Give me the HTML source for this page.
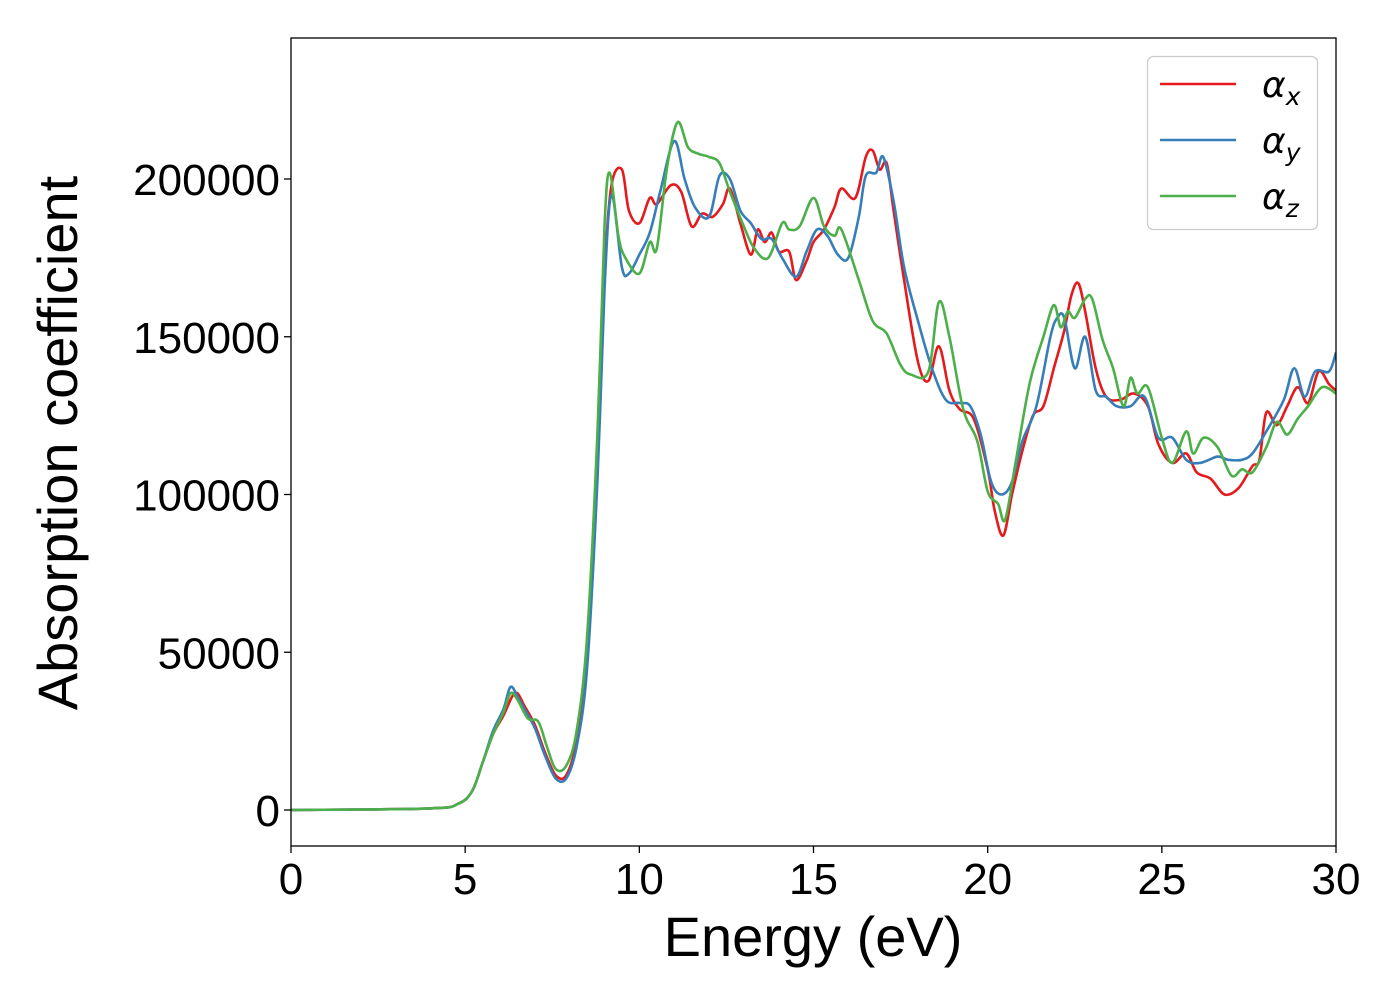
<!DOCTYPE html>
<html><head><meta charset="utf-8"><style>
body{margin:0;background:#fff}
svg{display:block;font-family:"Liberation Sans","DejaVu Sans",sans-serif}
</style></head><body>
<svg id="chart" width="1400" height="1000" viewBox="0 0 1400 1000">
<rect x="0" y="0" width="1400" height="1000" fill="#fff"/>
<g id="series"></g>
<g id="axes"></g>
</svg>
<script>
const xTicks=[0,5,10,15,20,25,30];
const yTicks=[0,50000,100000,150000,200000];
const seriesNames=["αx","αy","αz"];
const xE=[0,4,4.8,5.2,5.5,5.8,6.1,6.35,6.5,6.7,7.0,7.3,7.6,7.9,8.2,8.5,8.8,9.0,9.2,9.5,9.7,10.0,10.3,10.5,10.9,11.2,11.5,11.8,12.1,12.4,12.6,12.9,13.2,13.4,13.6,13.8,14.0,14.3,14.5,14.8,15.0,15.3,15.6,15.8,16.2,16.5,16.7,16.9,17.1,17.3,17.6,18.0,18.3,18.6,18.9,19.2,19.6,20.0,20.2,20.45,20.7,21.0,21.3,21.6,21.9,22.2,22.4,22.6,22.8,23.1,23.4,23.8,24.2,24.6,24.9,25.3,25.7,26.0,26.4,26.8,27.2,27.6,27.8,28.0,28.3,28.6,28.9,29.2,29.5,29.8,30];
const xV=[0,0.5,2,6,15,24,30,36,37,33,27,18,11,11,22,50,110,170,198,203,190,186,194,192,198,196,185,189,188,192,197,186,176,184,180,183,177,177,168,174,180,184,191,197,194,207,209,203,205,190,168,142,136,147,133,127,124,108,95,87,100,114,125,128,140,152,163,167,158,140,131,130,132,128,116,110,113,107,105,100,102,109,111,126,122,128,134,129,139,135,133];
const yE=[0,4,4.8,5.2,5.5,5.8,6.1,6.3,6.5,6.7,7.0,7.3,7.6,7.9,8.2,8.5,8.8,9.0,9.2,9.5,9.7,10.0,10.3,10.6,11.0,11.3,11.6,12.0,12.3,12.6,12.9,13.2,13.5,13.8,14.1,14.5,14.8,15.1,15.4,15.7,16.0,16.3,16.5,16.8,17.0,17.3,17.6,18.0,18.4,18.8,19.2,19.5,19.8,20.1,20.4,20.7,21.0,21.4,21.8,22.0,22.2,22.5,22.8,23.1,23.4,23.7,24.1,24.5,24.9,25.3,25.7,26.1,26.6,26.9,27.3,27.6,28.0,28.5,28.8,29.1,29.4,29.8,30];
const yV=[0,0.5,2,6,15,25,32,39,36,32,26,17,10,10,20,45,105,165,195,172,170,176,183,196,212,200,191,188,201,200,190,186,181,181,175,169,177,184,182,176,175,188,201,202,207,193,172,155,140,130,129,128,119,104,100,104,117,128,150,156,156,140,150,133,131,128,128,131,118,118,111,110,112,111,111,113,120,130,140,131,139,139,145];
const zE=[0,4,4.8,5.2,5.5,5.8,6.1,6.3,6.5,6.8,7.1,7.35,7.6,7.9,8.2,8.5,8.8,9.0,9.15,9.4,9.6,10.0,10.3,10.5,10.8,11.1,11.4,11.7,12.0,12.3,12.6,13.0,13.3,13.7,14.1,14.3,14.6,15.0,15.3,15.6,15.8,16.3,16.7,17.1,17.5,17.8,18.3,18.6,18.9,19.3,19.7,20.0,20.3,20.5,20.8,21.2,21.6,21.9,22.1,22.3,22.5,22.8,23.0,23.3,23.6,23.9,24.1,24.3,24.6,25.0,25.3,25.7,25.9,26.2,26.6,27.0,27.3,27.6,28.0,28.3,28.6,28.9,29.2,29.6,30];
const zV=[0,0.5,2,6,15,24,31,37,35,29,28,20,13,14,25,55,120,185,202,182,175,170,180,178,204,218,210,208,207,205,196,185,178,175,186,184,185,194,185,182,184,168,155,151,141,138,139,161,150,127,117,101,97,92,110,135,150,160,153,158,156,162,162,149,140,128,137,132,134,118,110,120,113,118,115,106,108,107,115,123,119,124,128,134,132];
const L=291,R=1336,T=38,B=846;
const X=e=>L+(e-0)/30*(R-L);
const Y=v=>810-v*1000*(810-179)/200000;
const NS="http://www.w3.org/2000/svg";
const svg=document.getElementById('chart');
function mk(tag,attrs,parent){const el=document.createElementNS(NS,tag);for(const k in attrs)el.setAttribute(k,attrs[k]);parent.appendChild(el);return el;}
function pathFrom(E,V){
  const p=E.map((e,i)=>[X(e),Y(V[i])]);
  let d="M"+p[0][0].toFixed(1)+","+p[0][1].toFixed(1);
  for(let i=0;i<p.length-1;i++){
    const p0=p[Math.max(i-1,0)],p1=p[i],p2=p[i+1],p3=p[Math.min(i+2,p.length-1)];
    const c1=[p1[0]+(p2[0]-p0[0])/6,p1[1]+(p2[1]-p0[1])/6];
    const c2=[p2[0]-(p3[0]-p1[0])/6,p2[1]-(p3[1]-p1[1])/6];
    d+=` C${c1[0].toFixed(1)},${c1[1].toFixed(1)} ${c2[0].toFixed(1)},${c2[1].toFixed(1)} ${p2[0].toFixed(1)},${p2[1].toFixed(1)}`;
  }
  return d;
}
const sg=document.getElementById('series');
const defs=mk('defs',{},svg);
const cp=mk('clipPath',{id:'clip'},defs);
mk('rect',{x:L,y:T,width:R-L,height:B-T},cp);
sg.setAttribute('clip-path','url(#clip)');
const cols=["#e41a1c","#377eb8","#4daf4a"];
const data=[[xE,xV],[yE,yV],[zE,zV]];
const snames=["alpha-x-line","alpha-y-line","alpha-z-line"];
data.forEach((s,i)=>{
  const el=mk('path',{d:pathFrom(s[0],s[1]),fill:'none',stroke:cols[i],'stroke-width':2.6,'stroke-linejoin':'round'},sg);
  
  
});
const ax=document.getElementById('axes');
const frame=mk('rect',{x:L,y:T,width:R-L,height:B-T,fill:'none',stroke:'#000','stroke-width':1.3},ax);


xTicks.forEach(t=>{
  mk('line',{x1:X(t),x2:X(t),y1:B,y2:B+7,stroke:'#000','stroke-width':1.3},ax);
  const tx=mk('text',{x:X(t),y:B+48,'text-anchor':'middle','font-size':44,fill:'#000'},ax);
  tx.textContent=t;
  
  
});
yTicks.forEach(t=>{
  mk('line',{x1:L-7,x2:L,y1:Y(t/1000),y2:Y(t/1000),stroke:'#000','stroke-width':1.3},ax);
  const tx=mk('text',{x:L-11,y:Y(t/1000)+16,'text-anchor':'end','font-size':44,fill:'#000'},ax);
  tx.textContent=t;
  
  
});
</script>
<svg style="position:absolute;left:0;top:0" width="1400" height="1000">
<text x="813" y="956" text-anchor="middle" font-size="56" font-family="Liberation Sans, sans-serif">Energy (eV)</text>
<text transform="translate(77,443) rotate(-90)" text-anchor="middle" font-size="56" font-family="Liberation Sans, sans-serif">Absorption coefficient</text>
<g>
<rect x="1147.5" y="56.5" width="170" height="173" rx="6" fill="#fff" fill-opacity="0.8" stroke="#ccc" stroke-width="1.3"/>
<g><line x1="1160" x2="1236" y1="84" y2="84" stroke="#e41a1c" stroke-width="2.6"/><text x="1262" y="97" font-size="36" font-style="italic" font-family="DejaVu Sans, sans-serif">α<tspan font-size="25" dy="8">x</tspan></text></g>
<g><line x1="1160" x2="1236" y1="140" y2="140" stroke="#377eb8" stroke-width="2.6"/><text x="1262" y="153" font-size="36" font-style="italic" font-family="DejaVu Sans, sans-serif">α<tspan font-size="25" dy="8">y</tspan></text></g>
<g><line x1="1160" x2="1236" y1="196" y2="196" stroke="#4daf4a" stroke-width="2.6"/><text x="1262" y="209" font-size="36" font-style="italic" font-family="DejaVu Sans, sans-serif">α<tspan font-size="25" dy="8">z</tspan></text></g>
</g>
</svg>
</body></html>
